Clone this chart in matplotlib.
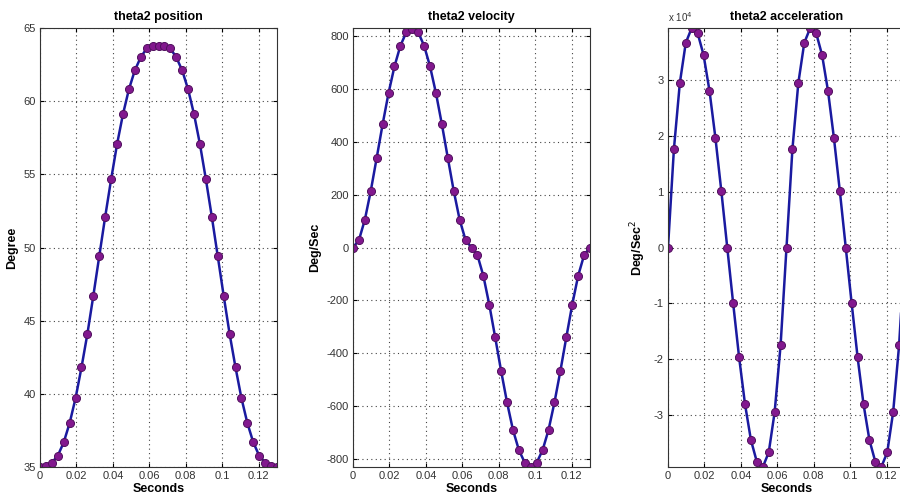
import matplotlib
matplotlib.use("Agg")
import matplotlib.pyplot as plt
from matplotlib.ticker import FuncFormatter

plt.rcParams["font.family"] = ["Liberation Sans", "DejaVu Sans"]
plt.rcParams["axes.unicode_minus"] = False

# time samples (s)
t = [0.0, 0.00325, 0.0065, 0.00975, 0.013, 0.01625, 0.0195, 0.02275, 0.026, 0.02925,
     0.0325, 0.03575, 0.039, 0.04225, 0.0455, 0.04875, 0.052, 0.05525, 0.0585, 0.06175,
     0.065, 0.06825, 0.0715, 0.07475, 0.078, 0.08125, 0.0845, 0.08775, 0.091, 0.09425,
     0.0975, 0.10075, 0.104, 0.10725, 0.1105, 0.11375, 0.117, 0.12025, 0.1235, 0.12675,
     0.13]

# theta2 position (deg)
position = [35.0, 35.05, 35.3, 35.77, 36.68, 38.0, 39.7, 41.8, 44.1, 46.7,
            49.4, 52.1, 54.65, 57.05, 59.1, 60.8, 62.1, 63.0, 63.6, 63.75,
            63.8, 63.75, 63.6, 63.0, 62.1, 60.8, 59.1, 57.05, 54.65, 52.1,
            49.4, 46.7, 44.1, 41.8, 39.7, 38.0, 36.68, 35.77, 35.3, 35.05,
            35.0]

# theta2 velocity (deg/s)
velocity = [0, 28, 105, 214, 339, 466, 584, 685, 763, 814,
            828, 814, 763, 685, 584, 466, 339, 214, 105, 28,
            0, -29, -107, -216, -340, -467, -586, -690, -766, -814,
            -830, -814, -766, -690, -586, -467, -340, -216, -107, -29,
            0]

# theta2 acceleration (deg/s^2)
acceleration = [0, 17600, 29400, 36550, 39200, 38300, 34400, 28000, 19600, 10100,
                0, -10000, -19600, -28000, -34400, -38300, -39200, -36600, -29400, -17500,
                0, 17600, 29400, 36550, 39200, 38300, 34400, 28000, 19600, 10100,
                0, -10000, -19600, -28000, -34400, -38300, -39200, -36600, -29400, -17500,
                0]

xticks = [0, 0.02, 0.04, 0.06, 0.08, 0.1, 0.12]
xtick_labels = ["0", "0.02", "0.04", "0.06", "0.08", "0.1", "0.12"]

titles = ["theta2 position", "theta2 velocity", "theta2 acceleration"]
ylabels = ["Degree", "Deg/Sec", "Deg/Sec$^2$"]

fig = plt.figure(figsize=(9, 5), dpi=100)
lefts = [40, 353, 668]
axes = [fig.add_axes([l / 900, 33 / 500, 237 / 900, 439 / 500]) for l in lefts]

series = [position, velocity, acceleration]
ylims = [(35, 65), (-830, 830), (-39200, 39200)]
yticks = [[35, 40, 45, 50, 55, 60, 65],
          [-800, -600, -400, -200, 0, 200, 400, 600, 800],
          [-30000, -20000, -10000, 0, 10000, 20000, 30000]]

for ax, y, title, ylabel, ylim, yt in zip(axes, series, titles, ylabels, ylims, yticks):
    ax.plot(t, y, "-", color="#1a1aa0", lw=1.8, marker="o", ms=5.8,
            mfc="#82188e", mec="#50105e", mew=0.7)
    ax.set_xlim(0, 0.13)
    ax.set_ylim(*ylim)
    ax.set_xticks(xticks)
    ax.set_xticklabels(xtick_labels)
    ax.set_yticks(yt)
    ax.grid(True, linestyle=(0, (1, 3)), color="#444444", linewidth=0.8)
    ax.tick_params(direction="in", top=True, right=True, length=3,
                   labelsize=8, labelcolor="#333333", pad=3)
    for sp in ax.spines.values():
        sp.set_linewidth(0.8)
        sp.set_color("#333333")
    ax.set_title(title, fontsize=9, fontweight="bold", pad=6)
    ax.set_xlabel("Seconds", fontsize=9, fontweight="bold", labelpad=1)
    ax.set_ylabel(ylabel, fontsize=9, fontweight="bold", labelpad=4)

axes[2].yaxis.set_major_formatter(FuncFormatter(lambda v, p: f"{v / 1e4:g}"))
axes[2].text(0.0, 1.01, r"x 10$^4$", transform=axes[2].transAxes,
             fontsize=7, color="#333333", va="bottom", ha="left")

fig.savefig("out.png", dpi=100)
